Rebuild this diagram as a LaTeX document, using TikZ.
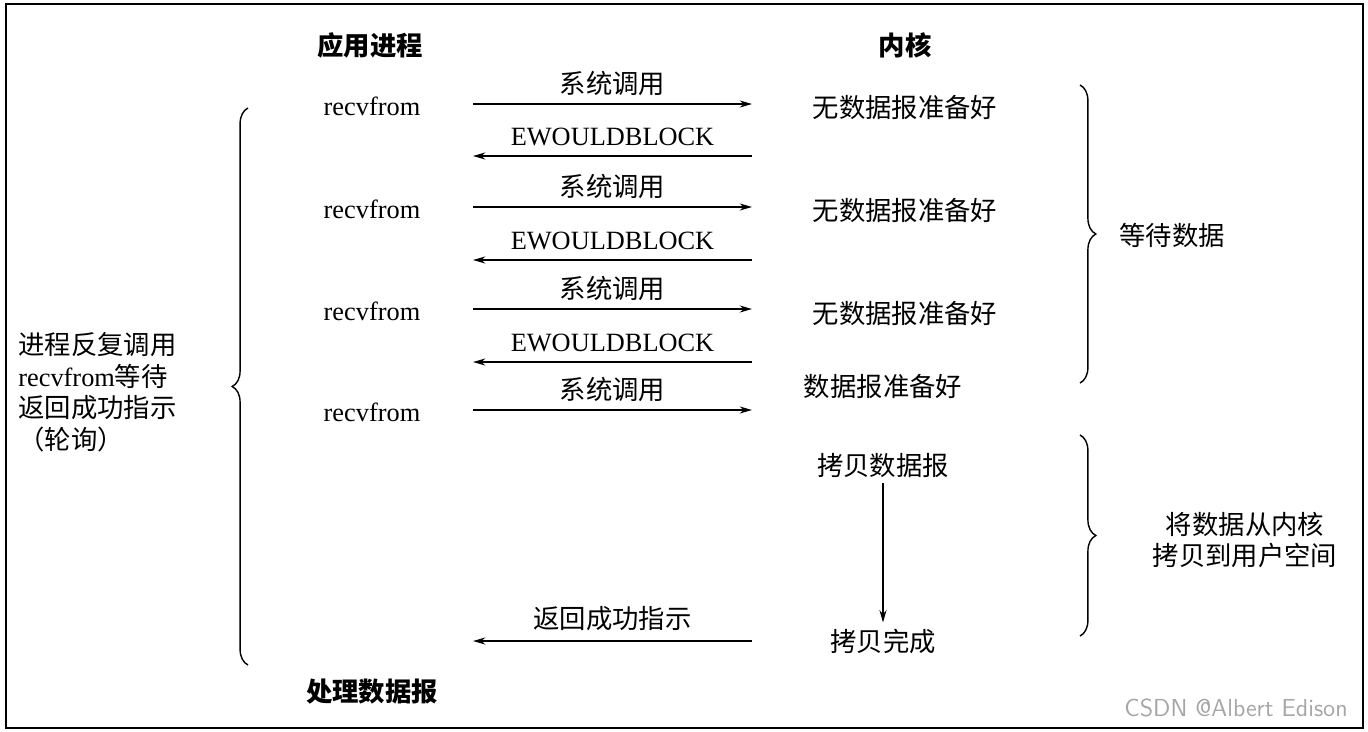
\documentclass[tikz,border=0pt]{standalone}
\usepackage{fontspec}
\setmainfont{Liberation Serif}
\newfontfamily\cjk{Noto Sans CJK SC}
\usetikzlibrary{decorations.pathreplacing,arrows.meta}
\begin{document}
\begin{tikzpicture}[x=0.02cm,y=-0.02cm,
  zh/.style={font=\cjk\fontsize{15}{18}\selectfont},
  zb/.style={font=\cjk\bfseries\fontsize{15}{18}\selectfont},
  en/.style={font=\fontsize{15}{18}\selectfont},
  arr/.style={-{Stealth[length=7pt,width=4pt]},line width=1pt},
  br/.style={decorate,decoration={brace,amplitude=9pt},line width=0.8pt}]
\useasboundingbox (0,0) rectangle (1368,731);
\draw[line width=0.8pt] (6,4) rectangle (1363,728);
\node[zb] (app) at (370,45) {应用进程};
\node[zb] (ker) at (905,45) {内核};
\foreach \i/\y in {1/106,2/209,3/311,4/412}{
  \node[en] (r\i) at (372,\y) {recvfrom};
  \coordinate (sa\i) at (473,\y-2);
  \coordinate (sb\i) at (752,\y-2);
  \draw[arr] (sa\i) -- node[zh,above=1pt]{系统调用} (sb\i);
}
\foreach \i/\y in {1/156,2/260,3/362}{
  \coordinate (ea\i) at (752,\y);
  \coordinate (eb\i) at (473,\y);
  \draw[arr] (ea\i) -- node[en,above=2pt]{EWOULDBLOCK} (eb\i);
}
\node[zh] (k1) at (905,107) {无数据报准备好};
\node[zh] (k2) at (905,210) {无数据报准备好};
\node[zh] (k3) at (905,313) {无数据报准备好};
\node[zh] (k4) at (883,386) {数据报准备好};
\node[zh] (k5) at (883,465) {拷贝数据报};
\node[zh] (k6) at (883,641) {拷贝完成};
\draw[arr] (k5) -- (k6);
\coordinate (ra) at (752,641);
\coordinate (rb) at (473,641);
\draw[arr] (ra) -- node[zh,above=2pt]{返回成功指示} (rb);
\draw[br] (1080,85) -- (1080,383);
\node[zh] (w) at (1172,235) {等待数据};
\draw[br] (1080,435) -- (1080,636);
\node[zh,align=center] (c) at (1245,540) {将数据从内核\\拷贝到用户空间};
\draw[br] (248,665) -- (248,108);
\node[zh,align=left,anchor=west,inner sep=0pt] (p) at (18,392) {进程反复调用\\{\rmfamily recvfrom}等待\\返回成功指示\\（轮询）};
\node[zb] (d) at (372,692) {处理数据报};
\node[font=\fontfamily{}\sffamily\fontsize{14}{16}\selectfont,text=gray!70] (cs) at (1236,708) {CSDN @Albert Edison};
\end{tikzpicture}
\end{document}
